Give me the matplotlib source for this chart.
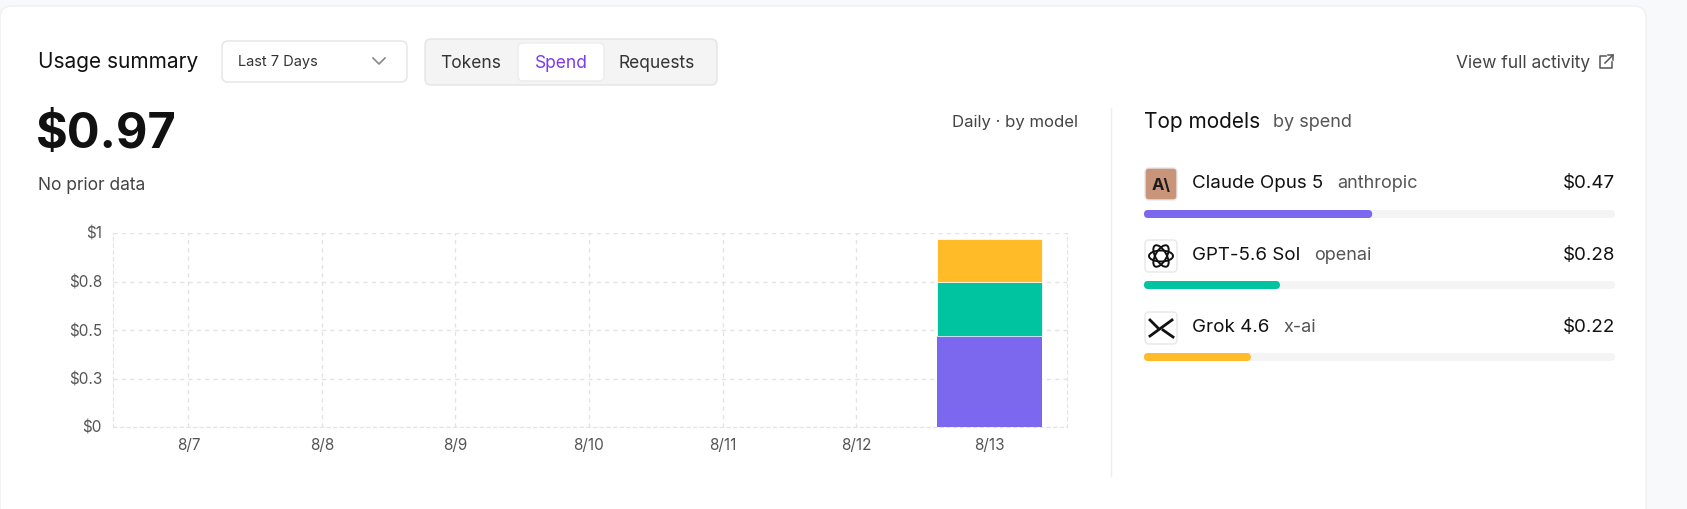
import matplotlib
matplotlib.use("Agg")
import matplotlib.pyplot as plt
from matplotlib.patches import FancyBboxPatch, Ellipse
import numpy as np

plt.rcParams['font.family'] = ['Inter', 'DejaVu Sans']

days = ["8/7", "8/8", "8/9", "8/10", "8/11", "8/12", "8/13"]
claude = [0, 0, 0, 0, 0, 0, 0.47]
gpt = [0, 0, 0, 0, 0, 0, 0.28]
grok = [0, 0, 0, 0, 0, 0, 0.22]
yticks = [0, 0.25, 0.5, 0.75, 1.0]
ytick_labels = ["$0", "$0.3", "$0.5", "$0.8", "$1"]
models = ["Claude Opus 5", "GPT-5.6 Sol", "Grok 4.6"]
providers = ["anthropic", "openai", "x-ai"]
spend = [0.47, 0.28, 0.22]
total = 0.97

PURPLE, GREEN, YELLOW = "#7b68ee", "#00c49f", "#ffbb28"
W, H = 1687, 509
fig = plt.figure(figsize=(W/100, H/100), dpi=100)
fig.patch.set_facecolor("#f8f9fb")

bg = fig.add_axes([0, 0, 1, 1])
bg.set_xlim(0, W); bg.set_ylim(H, 0); bg.axis("off")
bg.add_patch(FancyBboxPatch((0, 6), 1646, 530, boxstyle="round,pad=0,rounding_size=12",
                            fc="white", ec="#f0f0f2", lw=1))

def t(x, y, s, size, color="#111", **kw):
    return bg.text(x, y, s, fontsize=size, color=color, va="center", **kw)

t(38, 62, "Usage summary", 15)
bg.add_patch(FancyBboxPatch((222, 41), 185, 41, boxstyle="round,pad=0,rounding_size=6",
                            fc="white", ec="#e4e4e7", lw=1))
t(238, 62, "Last 7 Days", 10.5, "#333")
bg.plot([373, 379, 385], [58, 64, 58], color="#888", lw=1.2)
bg.add_patch(FancyBboxPatch((425, 39), 292, 46, boxstyle="round,pad=0,rounding_size=6",
                            fc="#f4f4f5", ec="#e4e4e7", lw=1))
bg.add_patch(FancyBboxPatch((518, 43), 86, 38, boxstyle="round,pad=0,rounding_size=5",
                            fc="white", ec="#ececef", lw=1))
t(471, 63, "Tokens", 12.5, "#333", ha="center")
t(561, 63, "Spend", 12.5, "#7c3aed", ha="center")
t(657, 63, "Requests", 12.5, "#333", ha="center")
t(1590, 63, "View full activity", 12.5, "#444", ha="right")
bg.plot([1606, 1600, 1600, 1612, 1612], [56, 56, 68, 68, 62], color="#555", lw=1.1)
bg.plot([1605, 1613], [63, 55], color="#555", lw=1.1)
bg.plot([1608, 1613, 1613], [55, 55, 60], color="#555", lw=1.1)

t(36, 135, "$0.97", 35, "#111", fontweight="bold")
t(38, 185, "No prior data", 12.5, "#444")
t(1078, 122, "Daily · by model", 12, "#444", ha="right")
bg.plot([1111, 1111], [108, 476], color="#eeeeee", lw=1)

t(1144, 122, "Top models", 15)
t(1273, 122, "by spend", 13, "#555")

rows_y = [184, 256, 328]
bar_y = [214, 285, 357]
cols = [PURPLE, GREEN, YELLOW]
fig.canvas.draw()
r = fig.canvas.get_renderer()
for i in range(3):
    y = rows_y[i]
    fc = "#c9957a" if i == 0 else "white"
    bg.add_patch(FancyBboxPatch((1145, y-16), 32, 32, boxstyle="round,pad=0,rounding_size=4",
                                fc=fc, ec="#e8e8e8", lw=1))
    nt = t(1192, y, models[i], 13.5)
    wpx = nt.get_window_extent(r).width
    t(1192 + wpx + 14, y, providers[i], 13, "#555")
    t(1615, y, f"${spend[i]:.2f}", 13.5, ha="right")
    bg.add_patch(FancyBboxPatch((1144, bar_y[i]-4), 471, 8, boxstyle="round,pad=0,rounding_size=4",
                                fc="#f4f4f5", ec="none"))
    bg.add_patch(FancyBboxPatch((1144, bar_y[i]-4), 471*spend[i]/total, 8,
                                boxstyle="round,pad=0,rounding_size=4", fc=cols[i], ec="none"))
t(1161, 185, "A\\", 12, "#1a1a1a", ha="center", fontweight="bold")
for a in range(0, 180, 60):
    bg.add_patch(Ellipse((1161, 256), 24, 11, angle=a, fc="none", ec="#111", lw=1.4))
bg.plot([1150, 1172], [336, 320], color="#111", lw=2)
bg.plot([1150, 1158], [320, 328], color="#111", lw=2)
bg.plot([1163, 1173], [330, 337], color="#111", lw=2)

ax = fig.add_axes([113/W, 1-427/H, (1067-113)/W, (427-233)/H])
x = np.arange(len(days))
bw = 0.79
ax.bar(x, claude, bw, color=PURPLE, zorder=3)
ax.bar(x, gpt, bw, bottom=claude, color=GREEN, zorder=3, edgecolor="white", linewidth=0.5)
b2 = np.array(claude) + np.array(gpt)
ax.bar(x, grok, bw, bottom=b2, color=YELLOW, zorder=3, edgecolor="white", linewidth=0.5)
ax.set_xlim(-0.565, 6.58)
ax.set_ylim(0, 1)
ax.set_xticks(x, days)
ax.set_yticks(yticks, ytick_labels)
ax.grid(True, ls=(0, (3, 3)), color="#e3e3e3", lw=1)
for s in ["top", "right", "left", "bottom"]:
    ax.spines[s].set_linestyle((0, (3, 3)))
    ax.spines[s].set_color("#e3e3e3")
ax.spines["top"].set_visible(False)
ax.tick_params(length=0, labelsize=11, labelcolor="#555", pad=8)
ax.set_facecolor("none")

fig.savefig("out.png", dpi=100)
